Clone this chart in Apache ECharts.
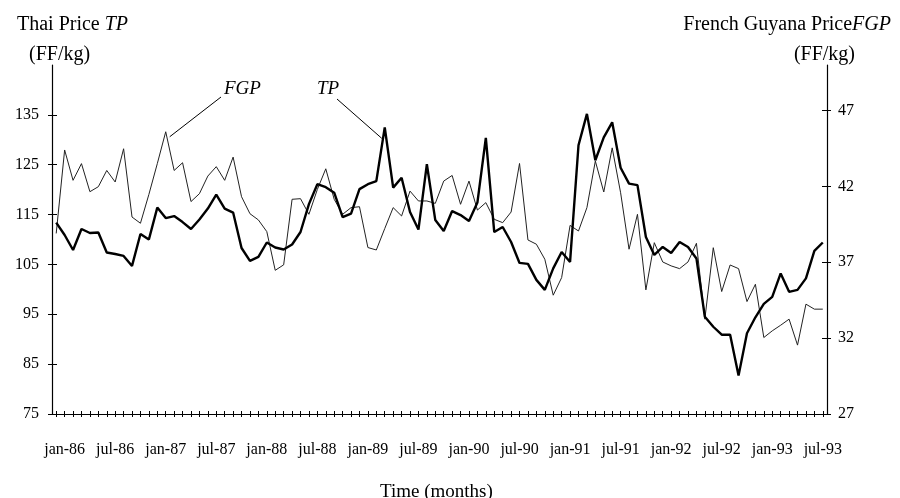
<!DOCTYPE html>
<html>
<head>
<meta charset="utf-8">
<script src="https://cdn.jsdelivr.net/npm/echarts@6/dist/echarts.min.js"></script>
<style>
  html, body { margin: 0; padding: 0; background: #fff; }
  #chart { width: 900px; height: 498px; }
</style>
</head>
<body>
<div id="chart"></div>
<script>
// months dec-85 .. jul-93
const monthNames = ['jan', 'feb', 'mar', 'apr', 'may', 'jun', 'jul', 'aug', 'sep', 'oct', 'nov', 'dec'];
const categories = ['dec-85'];
for (let y = 86; y <= 93; y++) {
  for (let m = 0; m < 12; m++) {
    if (y === 93 && m > 6) break;
    categories.push(monthNames[m] + '-' + y);
  }
}

// Thai price TP (left axis, FF/kg)
const tpValues = [
  113.4, 110.9, 107.9, 112.1, 111.3, 111.4, 107.4, 107.1, 106.7, 104.7,
  111.1, 110.0, 116.4, 114.3, 114.7, 113.5, 112.1, 114.0, 116.2, 119.0,
  116.2, 115.4, 108.3, 105.7, 106.5, 109.4, 108.4, 108.0, 109.0, 111.5,
  117.1, 121.1, 120.5, 119.4, 114.5, 115.2, 120.1, 121.1, 121.7, 132.5,
  120.4, 122.4, 115.5, 112.0, 125.1, 113.9, 111.7, 115.7, 114.9, 113.7,
  117.4, 130.4, 111.5, 112.5, 109.5, 105.3, 105.1, 101.9, 99.9, 104.2,
  107.5, 105.5, 128.9, 135.2, 125.9, 130.5, 133.5, 124.4, 121.2, 120.9,
  110.5, 106.9, 108.5, 107.3, 109.5, 108.5, 106.2, 94.5, 92.5, 90.9,
  90.9, 82.7, 91.2, 94.4, 97.1, 98.5, 103.2, 99.5, 99.9, 102.2,
  107.7, 109.4
];

// French Guyana price FGP (right axis, FF/kg)
const fgpValues = [
  38.9, 44.4, 42.4, 43.5, 41.65, 41.98, 43.05, 42.29, 44.48, 39.98,
  39.57, 41.47, 43.5, 45.6, 43.05, 43.56, 41.0, 41.52, 42.68, 43.3,
  42.4, 43.93, 41.32, 40.2, 39.79, 39.02, 36.47, 36.83, 41.15, 41.19,
  40.16, 41.8, 43.16, 41.15, 40.16, 40.6, 40.66, 37.97, 37.81, 39.22,
  40.6, 40.05, 41.69, 41.04, 41.04, 40.88, 42.35, 42.72, 40.82, 42.35,
  40.44, 40.93, 39.83, 39.61, 40.31, 43.51, 38.47, 38.19, 37.2, 34.83,
  35.99, 39.43, 39.06, 40.6, 43.67, 41.63, 44.54, 41.58, 37.86, 40.16,
  35.18, 38.29, 37.02, 36.76, 36.58, 37.02, 38.25, 33.25, 37.96, 35.07,
  36.82, 36.58, 34.41, 35.55, 32.04, 32.48, 32.85, 33.25, 31.54, 34.24,
  33.91, 33.91
];

// tick labels
const leftTicks = [75, 85, 95, 105, 115, 125, 135];
const rightTicks = [27, 32, 37, 42, 47];

const serif = "'Liberation Serif', 'Times New Roman', serif";
const chart = echarts.init(document.getElementById('chart'));

const plain = { fontFamily: serif, fontSize: 20, fontWeight: 'normal', color: '#000' };
const ital = { fontFamily: serif, fontSize: 20, fontWeight: 'normal', fontStyle: 'italic', color: '#000' };

const yBase = {
  type: 'value',
  splitLine: { show: false },
  axisLine: { show: true, lineStyle: { color: '#000', width: 1.2 } },
};

chart.setOption({
  animation: false,
  backgroundColor: '#fff',
  title: [
    {
      text: '{n|Thai Price }{i|TP}', left: 12, top: 10,
      textStyle: { fontWeight: 'normal', rich: { n: plain, i: ital } },
    },
    { text: '(FF/kg)', left: 24, top: 40, textStyle: plain },
    {
      text: '{n|French Guyana Price}{i|FGP}', right: 4, top: 10,
      textStyle: { fontWeight: 'normal', rich: { n: plain, i: ital } },
    },
    { text: '(FF/kg)', right: 40, top: 40, textStyle: plain },
    { text: 'Time (months)', left: 375, top: 478, textStyle: { fontFamily: serif, fontSize: 19, fontWeight: 'normal', color: '#000' } },
  ],
  grid: { left: 52, right: 73, top: 65, bottom: 84 },
  xAxis: [
    {
      type: 'category',
      data: categories,
      boundaryGap: true,
      axisLine: { show: true, lineStyle: { color: '#000', width: 1.2 } },
      axisTick: { show: true, alignWithLabel: true, interval: 0, length: 3, lineStyle: { color: '#000' } },
      axisLabel: {
        interval: (index) => (index - 1) % 6 === 0,
        margin: 28,
        fontFamily: serif,
        fontSize: 16,
        color: '#000',
      },
      splitLine: { show: false },
    },
    {
      type: 'category',
      data: categories,
      position: 'bottom',
      boundaryGap: true,
      axisLine: { show: false },
      axisTick: { show: true, inside: true, alignWithLabel: true, interval: 0, length: 3, lineStyle: { color: '#000' } },
      axisLabel: { show: false },
      splitLine: { show: false },
    },
  ],
  yAxis: [
    Object.assign({}, yBase, {
      position: 'left', min: 75, max: 145,
      axisTick: { show: true, length: 4, customValues: leftTicks, lineStyle: { color: '#000' } },
      axisLabel: { customValues: leftTicks, margin: 13, fontFamily: serif, fontSize: 16, color: '#000' },
    }),
    Object.assign({}, yBase, {
      position: 'right', min: 27, max: 50,
      axisTick: { show: true, length: 4, customValues: rightTicks, lineStyle: { color: '#000' } },
      axisLabel: { customValues: rightTicks, margin: 11, fontFamily: serif, fontSize: 16, color: '#000' },
    }),
    Object.assign({}, yBase, {
      position: 'left', min: 75, max: 145,
      axisLine: { show: false },
      axisTick: { show: true, inside: true, length: 5, customValues: leftTicks, lineStyle: { color: '#000' } },
      axisLabel: { show: false },
    }),
    Object.assign({}, yBase, {
      position: 'right', min: 27, max: 50,
      axisLine: { show: false },
      axisTick: { show: true, inside: true, length: 5, customValues: rightTicks, lineStyle: { color: '#000' } },
      axisLabel: { show: false },
    }),
  ],
  series: [
    {
      name: 'TP', type: 'line', xAxisIndex: 0, yAxisIndex: 0,
      data: tpValues, symbol: 'none', z: 3,
      lineStyle: { color: '#000', width: 2.4 },
    },
    {
      name: 'FGP', type: 'line', xAxisIndex: 0, yAxisIndex: 1,
      data: fgpValues, symbol: 'none', z: 2,
      lineStyle: { color: '#222', width: 1 },
    },
  ],
});

// leader lines to the peaks
const fgpPeak = chart.convertToPixel({ seriesIndex: 1 }, [13, fgpValues[13]]);
const tpPeak = chart.convertToPixel({ seriesIndex: 0 }, [39, tpValues[39]]);
chart.setOption({
  graphic: [
    { type: 'text', left: 224, top: 79, style: { text: 'FGP', font: 'italic 19px ' + serif, fill: '#000' } },
    { type: 'text', left: 317, top: 79, style: { text: 'TP', font: 'italic 19px ' + serif, fill: '#000' } },
    { type: 'line', shape: { x1: 221, y1: 97, x2: fgpPeak[0] + 4, y2: fgpPeak[1] + 5 }, style: { stroke: '#000', lineWidth: 1 } },
    { type: 'line', shape: { x1: 337, y1: 99, x2: tpPeak[0] - 3, y2: tpPeak[1] + 11 }, style: { stroke: '#000', lineWidth: 1 } },
  ],
});
</script>
</body>
</html>
